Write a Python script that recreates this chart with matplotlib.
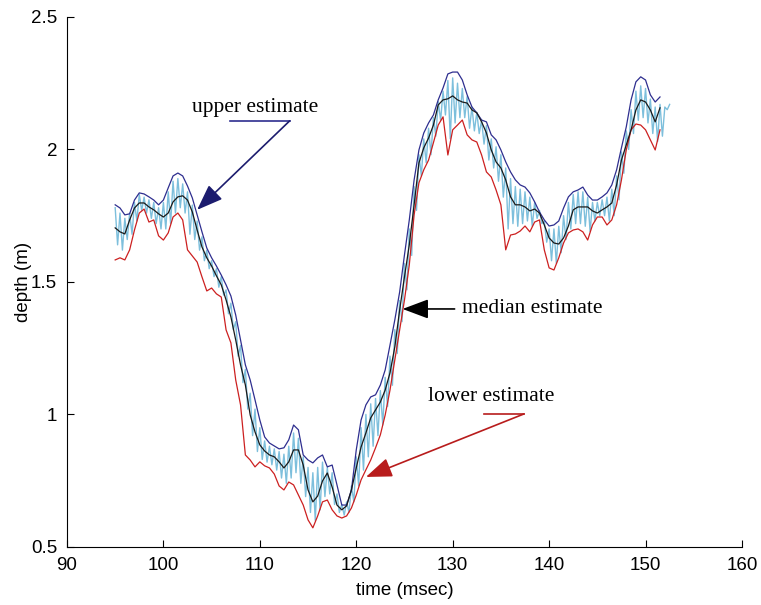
import numpy as np
import matplotlib
matplotlib.use("Agg")
import matplotlib.pyplot as plt

# time grid for the three estimate curves (msec)
t_est = np.arange(95.0, 151.51, 0.5)

median = [1.704, 1.689, 1.681, 1.734, 1.779, 1.798, 1.798, 1.783, 1.772, 1.757,
          1.745, 1.760, 1.802, 1.821, 1.825, 1.809, 1.764, 1.696, 1.632, 1.591,
          1.560, 1.523, 1.489, 1.432, 1.368, 1.281, 1.187, 1.111, 0.998, 0.934,
          0.885, 0.862, 0.847, 0.840, 0.821, 0.798, 0.821, 0.866, 0.866, 0.809,
          0.715, 0.670, 0.692, 0.749, 0.779, 0.726, 0.658, 0.640, 0.655, 0.715,
          0.798, 0.877, 0.930, 0.987, 1.017, 1.047, 1.092, 1.157, 1.255, 1.394,
          1.519, 1.640, 1.791, 1.949, 2.006, 2.043, 2.092, 2.168, 2.187, 2.191,
          2.202, 2.187, 2.179, 2.175, 2.149, 2.138, 2.104, 2.062, 1.998, 1.953,
          1.930, 1.885, 1.821, 1.791, 1.791, 1.783, 1.768, 1.775, 1.760, 1.715,
          1.666, 1.647, 1.643, 1.666, 1.711, 1.772, 1.783, 1.783, 1.783, 1.768,
          1.760, 1.772, 1.783, 1.798, 1.866, 1.960, 2.017, 2.074, 2.149, 2.187,
          2.179, 2.149, 2.104, 2.157]

upper = [1.791, 1.779, 1.753, 1.757, 1.809, 1.836, 1.832, 1.821, 1.809, 1.791,
         1.809, 1.855, 1.900, 1.911, 1.900, 1.862, 1.817, 1.753, 1.689, 1.628,
         1.591, 1.560, 1.526, 1.489, 1.447, 1.375, 1.281, 1.187, 1.130, 1.055,
         0.979, 0.915, 0.892, 0.881, 0.870, 0.874, 0.904, 0.960, 0.942, 0.847,
         0.828, 0.817, 0.836, 0.847, 0.802, 0.809, 0.734, 0.658, 0.658, 0.715,
         0.866, 0.979, 1.036, 1.066, 1.074, 1.111, 1.168, 1.262, 1.357, 1.462,
         1.602, 1.734, 1.885, 1.998, 2.062, 2.100, 2.130, 2.187, 2.232, 2.285,
         2.292, 2.292, 2.262, 2.206, 2.160, 2.138, 2.111, 2.104, 2.055, 2.036,
         1.998, 1.953, 1.915, 1.885, 1.866, 1.858, 1.836, 1.802, 1.764, 1.734,
         1.711, 1.715, 1.730, 1.779, 1.821, 1.840, 1.847, 1.858, 1.828, 1.809,
         1.809, 1.821, 1.836, 1.866, 1.923, 2.006, 2.085, 2.187, 2.255, 2.274,
         2.262, 2.206, 2.179, 2.198]

lower = [1.583, 1.591, 1.583, 1.621, 1.696, 1.760, 1.775, 1.726, 1.734, 1.674,
         1.658, 1.685, 1.745, 1.760, 1.734, 1.621, 1.598, 1.575, 1.519, 1.466,
         1.477, 1.455, 1.443, 1.319, 1.270, 1.130, 1.036, 0.847, 0.828, 0.802,
         0.821, 0.806, 0.798, 0.775, 0.730, 0.715, 0.745, 0.734, 0.696, 0.658,
         0.602, 0.572, 0.617, 0.670, 0.677, 0.640, 0.617, 0.609, 0.617, 0.647,
         0.696, 0.753, 0.791, 0.828, 0.874, 0.923, 0.998, 1.092, 1.206, 1.319,
         1.432, 1.564, 1.753, 1.874, 1.923, 1.960, 2.025, 2.092, 2.123, 1.979,
         2.074, 2.092, 2.111, 2.055, 2.036, 2.028, 1.979, 1.915, 1.896, 1.847,
         1.791, 1.621, 1.677, 1.681, 1.692, 1.711, 1.689, 1.726, 1.734, 1.621,
         1.553, 1.545, 1.591, 1.647, 1.685, 1.696, 1.700, 1.689, 1.658, 1.715,
         1.745, 1.745, 1.715, 1.734, 1.791, 1.885, 1.998, 2.074, 2.096, 2.092,
         2.074, 2.036, 1.998, 2.074]

# individual samples (light blue), every 0.25 msec
t_samp = np.arange(95.0, 152.51, 0.25)
samples = [1.78, 1.64, 1.76, 1.62, 1.74, 1.66, 1.76, 1.68, 1.80, 1.73,
           1.83, 1.77, 1.82, 1.76, 1.81, 1.74, 1.80, 1.72, 1.78, 1.70,
           1.80, 1.70, 1.84, 1.72, 1.88, 1.76, 1.89, 1.78, 1.87, 1.76,
           1.84, 1.68, 1.79, 1.66, 1.73, 1.62, 1.67, 1.58, 1.62, 1.55,
           1.58, 1.52, 1.55, 1.48, 1.52, 1.45, 1.47, 1.38, 1.42, 1.32,
           1.35, 1.22, 1.26, 1.12, 1.17, 1.02, 1.08, 0.92, 1.02, 0.86,
           0.95, 0.83, 0.90, 0.82, 0.88, 0.81, 0.87, 0.79, 0.86, 0.76,
           0.85, 0.74, 0.88, 0.76, 0.93, 0.78, 0.91, 0.74, 0.84, 0.69,
           0.80, 0.63, 0.78, 0.60, 0.80, 0.64, 0.82, 0.69, 0.80, 0.70,
           0.78, 0.66, 0.70, 0.63, 0.66, 0.62, 0.67, 0.63, 0.73, 0.67,
           0.84, 0.73, 0.95, 0.79, 1.00, 0.84, 1.04, 0.88, 1.06, 0.92,
           1.09, 0.96, 1.14, 1.03, 1.22, 1.11, 1.32, 1.23, 1.43, 1.35,
           1.57, 1.47, 1.70, 1.60, 1.86, 1.77, 1.98, 1.90, 2.04, 1.95,
           2.08, 1.98, 2.12, 2.05, 2.18, 2.11, 2.22, 2.13, 2.26, 2.04,
           2.27, 2.10, 2.25, 2.12, 2.23, 2.12, 2.20, 2.08, 2.16, 2.07,
           2.14, 2.06, 2.11, 2.02, 2.09, 1.96, 2.04, 1.93, 2.01, 1.88,
           1.98, 1.82, 1.93, 1.70, 1.89, 1.72, 1.86, 1.71, 1.85, 1.72,
           1.84, 1.73, 1.82, 1.71, 1.80, 1.74, 1.77, 1.72, 1.73, 1.65,
           1.70, 1.58, 1.70, 1.57, 1.71, 1.61, 1.75, 1.66, 1.80, 1.70,
           1.83, 1.72, 1.84, 1.72, 1.84, 1.71, 1.82, 1.69, 1.80, 1.73,
           1.80, 1.75, 1.81, 1.75, 1.82, 1.73, 1.85, 1.75, 1.90, 1.81,
           1.99, 1.91, 2.07, 2.00, 2.15, 2.06, 2.22, 2.11, 2.24, 2.12,
           2.23, 2.10, 2.19, 2.06, 2.16, 2.03, 2.17, 2.05, 2.16, 2.15,
           2.17]

plt.rcParams['font.family'] = ['Liberation Sans', 'DejaVu Sans']

fig = plt.figure(figsize=(7.61, 6.05), dpi=100)
ax = fig.add_axes([0.088, 0.096, 0.887, 0.876])

ax.plot(t_samp, samples, color='#7dbfdc', lw=1.0)
ax.plot(t_est, upper, color='#2e2e8f', lw=0.9)
ax.plot(t_est, lower, color='#cc2020', lw=0.9)
ax.plot(t_est, median, color='#1a1a1a', lw=0.9)

ax.set_xlim(90, 160)
ax.set_ylim(0.5, 2.5)
ax.set_xticks(np.arange(90, 161, 10))
ax.set_yticks([0.5, 1, 1.5, 2, 2.5])
ax.set_yticklabels(['0.5', '1', '1.5', '2', '2.5'])
ax.tick_params(direction='in', length=5, labelsize=13.5, width=0.8, pad=7)
ax.spines['top'].set_visible(False)
ax.spines['right'].set_visible(False)
ax.set_xlabel('time (msec)', fontsize=13.5, labelpad=6)
ax.set_ylabel('depth (m)', fontsize=13.5, labelpad=-1)

serif = dict(family=['Liberation Serif', 'DejaVu Serif'], fontsize=15.5)
head = '-|>,head_length=1.6,head_width=0.6'

# upper estimate
ax.text(109.5, 2.16, 'upper estimate', ha='center', va='center', **serif)
ax.plot([106.9, 113.1], [2.108, 2.108], color='#2e2e8f', lw=1.2)
ax.annotate('', xy=(103.5, 1.772), xytext=(113.1, 2.108),
            arrowprops=dict(arrowstyle=head, color='#1c1c6e', lw=1.2,
                            shrinkA=0, shrinkB=0))

# median estimate
ax.text(131.0, 1.398, 'median estimate', ha='left', va='center', **serif)
ax.annotate('', xy=(124.8, 1.398), xytext=(130.2, 1.398),
            arrowprops=dict(arrowstyle=head, color='black', lw=1.2,
                            shrinkA=0, shrinkB=0))

# lower estimate
ax.text(134.0, 1.066, 'lower estimate', ha='center', va='center', **serif)
ax.plot([133.2, 137.4], [1.002, 1.002], color='#b81c1c', lw=1.2)
ax.annotate('', xy=(121.0, 0.764), xytext=(137.4, 1.002),
            arrowprops=dict(arrowstyle=head, color='#b81c1c', lw=1.2,
                            shrinkA=0, shrinkB=0))

fig.savefig('out.png', dpi=100)
